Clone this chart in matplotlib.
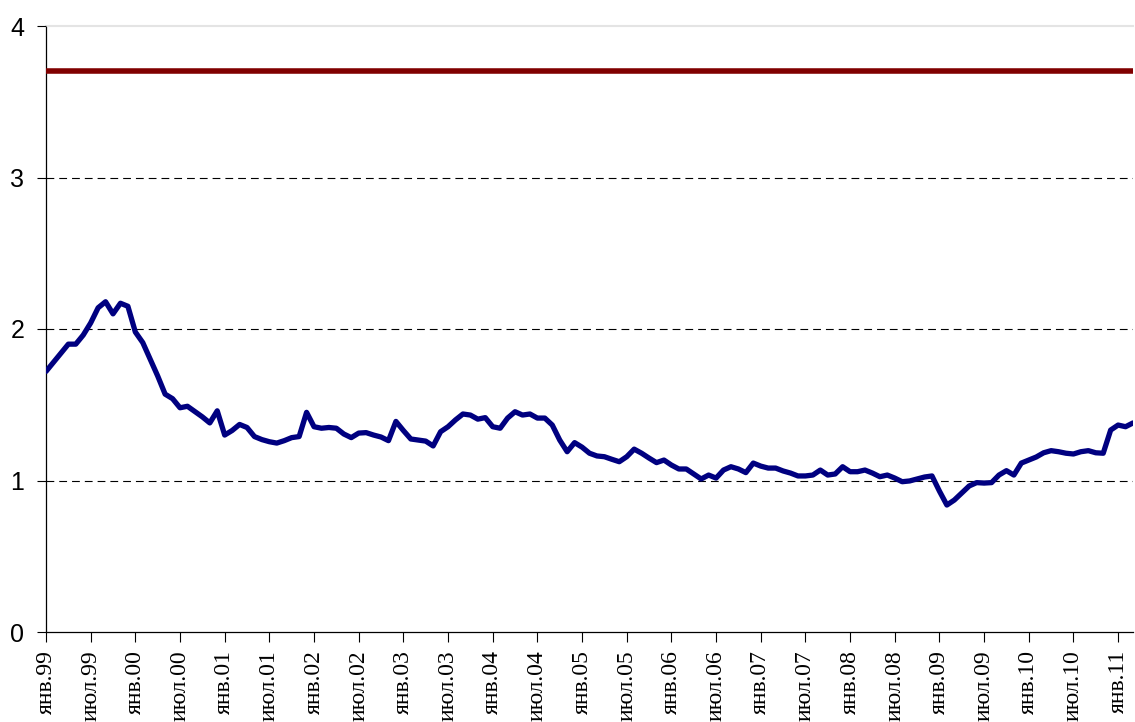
import matplotlib
matplotlib.use("Agg")
import matplotlib.pyplot as plt

# monthly values, Jan 1999 .. Mar 2011
values = [
    1.72, 1.78, 1.84, 1.90, 1.90, 1.96, 2.04, 2.14, 2.18, 2.10, 2.17, 2.15,
    1.98, 1.91, 1.80, 1.69, 1.57, 1.54, 1.48, 1.49, 1.455, 1.42, 1.38, 1.46,
    1.30, 1.33, 1.37, 1.35, 1.29, 1.27, 1.256, 1.247, 1.263, 1.283, 1.29, 1.45,
    1.355, 1.345, 1.35, 1.345, 1.307, 1.283, 1.313, 1.316, 1.30, 1.287, 1.263, 1.39,
    1.33, 1.274, 1.267, 1.26, 1.228, 1.322, 1.355, 1.40, 1.439, 1.432, 1.405, 1.415,
    1.355, 1.345, 1.412, 1.454, 1.432, 1.439, 1.412, 1.412, 1.366, 1.267, 1.19, 1.25,
    1.22, 1.18, 1.162, 1.157, 1.14, 1.124, 1.157, 1.207, 1.18, 1.148, 1.118, 1.135,
    1.102, 1.076, 1.076, 1.043, 1.01, 1.036, 1.016, 1.069, 1.091, 1.076, 1.052, 1.115,
    1.095, 1.082, 1.082, 1.063, 1.049, 1.03, 1.03, 1.036, 1.069, 1.036, 1.043, 1.091,
    1.058, 1.058, 1.069, 1.049, 1.025, 1.036, 1.016, 0.992, 0.997, 1.01, 1.023, 1.03,
    0.93, 0.838, 0.871, 0.917, 0.964, 0.986, 0.983, 0.986, 1.036, 1.065, 1.036, 1.115,
    1.135, 1.155, 1.183, 1.197, 1.19, 1.18, 1.175, 1.19, 1.197, 1.183, 1.18, 1.333,
    1.366, 1.355, 1.38,
]
threshold = 3.7

half_names = ["янв", "июл"]
years = ["99", "00", "01", "02", "03", "04", "05", "06", "07", "08", "09", "10", "11"]

n = len(values)
x = list(range(n))
tick_pos = list(range(0, n, 6))
tick_labels = [half_names[k % 2] + "." + years[k // 2] for k in range(len(tick_pos))]

fig = plt.figure(figsize=(11.35, 7.22), dpi=100)
ax = fig.add_axes([46 / 1135, 90 / 722, 1087 / 1135, 606 / 722])

for yv in [1, 2, 3]:
    ax.axhline(yv, color="black", lw=0.8, linestyle=(0, (7, 4.5)), zorder=1)

ax.plot(x, [threshold] * n, color="#800000", lw=4.0, solid_capstyle="round", zorder=3)
ax.plot(x, values, color="#000080", lw=3.8, solid_joinstyle="round",
        solid_capstyle="round", zorder=3)

ax.set_xlim(0, n - 1)
ax.set_ylim(0, 4)
ax.set_yticks([0, 1, 2, 3, 4])
ax.set_yticklabels(["0", "1", "2", "3", "4"], fontsize=18, family="Liberation Sans")
ax.set_xticks(tick_pos)
ax.set_xticklabels(tick_labels, rotation=90, fontsize=17, family="Liberation Serif",
                   va="top", ha="center")
ax.tick_params(axis="y", length=6.5, width=0.8, pad=9)
ax.tick_params(axis="x", length=7, width=0.8, pad=6)

ax.spines["right"].set_visible(False)
ax.spines["top"].set_color("#e4e4e4")
ax.spines["top"].set_linewidth(1.5)
ax.spines["left"].set_linewidth(0.9)
ax.spines["bottom"].set_linewidth(0.9)
for sp in ax.spines.values():
    sp.set_zorder(0.5)

fig.savefig("out.png", dpi=100)
